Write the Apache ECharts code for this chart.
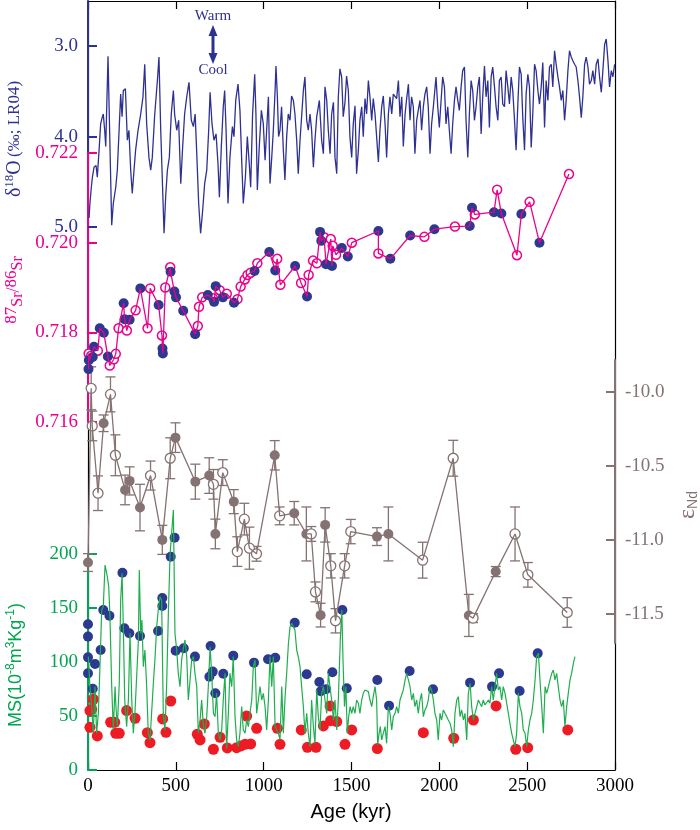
<!DOCTYPE html>
<html><head><meta charset="utf-8">
<script src="https://cdn.jsdelivr.net/npm/echarts@6/dist/echarts.min.js"></script>
<style>html,body{margin:0;padding:0;background:#fff}#c{width:700px;height:830px}</style>
</head><body><div id="c"></div><script>
// ---- data (age kyr, value) ----
const ageTicks = [0, 500, 1000, 1500, 2000, 2500, 3000];
const d18oTicks = [3, 4, 5];
const srTicks = [0.716, 0.718, 0.720, 0.722];
const ndTicks = [-11.5, -11.0, -10.5, -10.0];
const msTicks = [0, 50, 100, 150, 200];

const d18o = [
[6,4.90],[11,4.74],[19,4.56],[25,4.45],[34,4.34],[46,4.32],[53,4.45],[63,4.15],[72,3.86],[82,3.78],[87,3.75],[95,3.93],[101,4.11],[114,3.11],[123,3.93],[135,4.98],[144,4.74],[158,4.56],[167,4.37],[177,3.93],[186,3.53],[194,3.78],[201,3.49],[213,3.47],[224,4.04],[233,3.93],[243,4.37],[252,4.63],[262,4.37],[271,4.15],[285,3.93],[300,3.75],[313,3.56],[323,3.20],[334,3.86],[347,4.23],[357,4.37],[366,4.23],[380,3.75],[395,3.38],[404,3.12],[414,3.93],[433,5.07],[442,4.67],[452,4.37],[463,4.23],[474,3.75],[486,3.49],[493,3.75],[505,3.93],[516,3.82],[528,4.52],[539,4.11],[550,3.75],[562,3.56],[575,3.40],[588,3.82],[600,3.89],[610,3.75],[620,4.23],[630,4.74],[641,5.07],[653,4.81],[664,4.52],[676,4.37],[687,3.93],[695,3.51],[706,3.86],[717,4.04],[729,3.97],[740,4.30],[748,4.67],[759,4.11],[770,3.67],[778,3.49],[786,3.93],[797,4.74],[808,4.23],[822,3.89],[831,4.00],[841,3.60],[854,3.42],[865,3.71],[877,4.37],[884,4.74],[896,4.45],[907,4.00],[918,4.30],[926,4.56],[937,3.75],[949,3.31],[956,3.75],[964,4.59],[975,4.11],[987,3.71],[998,3.86],
[1008,4.26],[1017,3.93],[1027,3.56],[1036,4.52],[1046,4.23],[1055,3.93],[1065,3.49],[1070,3.22],[1078,3.56],[1085,4.00],[1093,3.93],[1102,3.67],[1112,4.15],[1121,4.48],[1131,4.00],[1140,3.75],[1150,3.82],[1159,3.55],[1169,3.60],[1178,3.75],[1188,4.04],[1197,4.41],[1207,4.04],[1216,3.78],[1226,3.49],[1235,3.34],[1245,3.82],[1254,3.93],[1264,3.75],[1273,3.93],[1283,4.34],[1292,4.04],[1302,3.78],[1317,3.60],[1330,4.04],[1340,4.19],[1349,3.45],[1359,3.60],[1368,3.93],[1378,4.19],[1387,3.75],[1397,3.62],[1406,4.23],[1416,4.41],[1425,3.56],[1434,3.25],[1444,3.34],[1453,3.78],[1463,3.62],[1472,3.33],[1482,3.49],[1491,4.00],[1501,4.23],[1510,3.86],[1520,3.66],[1529,4.41],[1539,4.15],[1548,3.82],[1558,3.67],[1567,4.00],[1577,3.58],[1586,3.75],[1596,3.38],[1605,3.56],[1615,3.82],[1624,3.58],[1634,3.75],[1643,4.00],[1653,4.28],[1662,3.93],[1672,3.67],[1681,3.55],[1691,3.86],[1700,4.23],[1710,3.75],[1719,3.56],[1729,3.75],[1738,3.53],[1757,3.58],[1767,3.38],[1776,3.78],[1786,3.56],[1795,4.11],[1805,3.75],[1814,3.58],[1824,3.42],[1833,3.82],[1842,3.56],[1852,3.67],[1861,4.19],[1871,3.82],[1880,3.71],[1890,3.60],[1899,3.93],[1909,3.67],[1918,3.53],[1928,3.45],[1937,3.67],[1947,4.19],[1956,3.86],[1966,3.67],[1981,3.34],
[1991,3.67],[2000,3.90],[2010,3.60],[2019,3.34],[2029,3.45],[2038,3.86],[2048,3.67],[2057,3.93],[2067,4.19],[2076,3.86],[2086,3.60],[2095,3.45],[2105,3.60],[2114,3.71],[2124,3.45],[2133,3.27],[2143,3.23],[2152,3.82],[2162,4.23],[2171,3.75],[2181,3.38],[2190,3.49],[2200,3.82],[2209,3.67],[2219,3.45],[2228,3.34],[2238,3.97],[2247,3.56],[2257,3.22],[2266,3.56],[2276,3.38],[2285,3.90],[2295,3.34],[2304,3.23],[2314,3.45],[2323,3.67],[2333,3.82],[2342,3.38],[2352,3.34],[2361,3.64],[2371,3.67],[2380,3.27],[2390,3.45],[2399,3.64],[2409,3.34],[2418,3.49],[2428,3.82],[2437,4.15],[2447,3.64],[2456,3.23],[2466,3.31],[2475,3.79],[2485,4.15],[2494,3.53],[2504,3.31],[2513,3.45],[2523,4.12],[2532,3.75],[2542,3.20],[2551,3.27],[2561,3.49],[2570,3.64],[2580,3.45],[2589,3.18],[2599,3.90],[2608,3.38],[2618,3.60],[2627,3.23],[2637,3.20],[2646,3.45],[2656,3.05],[2665,3.20],[2675,3.34],[2684,3.45],[2694,3.60],[2703,3.49],[2713,3.82],[2722,3.60],[2732,3.27],[2741,3.05],[2751,3.12],[2760,3.16],[2770,3.20],[2779,3.23],[2789,3.38],[2798,3.56],[2808,3.79],[2817,3.56],[2827,3.20],[2836,3.12],[2846,3.23],[2855,3.42],[2865,3.38],[2874,3.27],[2884,3.42],[2893,3.20],[2903,3.14],[2912,3.34],[2922,3.51],[2931,3.27],[2941,2.98],[2950,2.92],[2960,3.16],[2969,3.45],[2979,3.27],[2988,3.34],[2998,3.20]
];

const srFilled = [[3,0.71718],[5,0.71738],[27,0.71745],[34,0.71768],[67,0.71809],[90,0.71799],[113,0.71746],[203,0.71865],[208,0.71829],[237,0.71828],[298,0.71898],[402,0.71861],[424,0.71764],[426,0.71753],[470,0.71935],[492,0.71891],[501,0.71878],[542,0.71848],[610,0.71796],[682,0.71883],[718,0.71868],[727,0.71903],[768,0.71878],[831,0.71866],[948,0.71937],[1032,0.71979],[1066,0.71938],[1179,0.71948],[1247,0.71880],[1321,0.72024],[1328,0.72004],[1355,0.71952],[1389,0.71948],[1445,0.71988],[1479,0.71969],[1653,0.72026],[1721,0.71964],[1834,0.72016],[1972,0.72030],[2173,0.72037],[2186,0.72078],[2311,0.72068],[2353,0.72065],[2467,0.72064],[2570,0.72000]];
const srOpen = [[4,0.71753],[18,0.71748],[56,0.71759],[124,0.71726],[147,0.71740],[158,0.71752],[174,0.71809],[221,0.71804],[271,0.71849],[339,0.71809],[354,0.71898],[421,0.71793],[440,0.71900],[468,0.71945],[625,0.71814],[632,0.71857],[650,0.71878],[711,0.71876],[750,0.71894],[790,0.71886],[851,0.71874],[869,0.71902],[892,0.71918],[908,0.71928],[926,0.71933],[964,0.71954],[1077,0.71964],[1095,0.71906],[1213,0.71910],[1256,0.71928],[1281,0.71960],[1303,0.71954],[1344,0.72012],[1382,0.72008],[1393,0.71993],[1412,0.71973],[1502,0.72000],[1653,0.71976],[1915,0.72013],[2089,0.72036],[2202,0.72063],[2329,0.72118],[2442,0.71972],[2514,0.72091],[2738,0.72153]];

// [age, eNd, error]
const ndFilled = [[0,-11.153,0.06],[89,-10.213,0.056],[211,-10.663,0.10],[237,-10.602,0.095],[296,-10.782,0.157],[423,-11.0,0.098],[498,-10.31,0.10],[611,-10.607,0.118],[690,-10.566,0.12],[725,-10.96,0.10],[830,-10.742,0.081],[1063,-10.429,0.099],[1174,-10.82,0.079],[1243,-10.96,0.182],[1324,-11.508,0.08],[1350,-10.899,0.116],[1645,-10.978,0.06],[1710,-10.96,0.182],[2168,-11.51,0.142],[2321,-11.214,0.034]];
const ndOpen = [[18,-9.977,0.145],[24,-10.231,0.10],[57,-10.685,0.117],[128,-10.018,0.118],[156,-10.429,0.138],[356,-10.566,0.098],[468,-10.449,0.138],[714,-10.625,0.10],[767,-10.546,0.087],[850,-11.079,0.10],[890,-10.86,0.107],[919,-11.056,0.142],[959,-11.094,0.05],[1091,-10.838,0.06],[1271,-10.96,0.05],[1295,-11.351,0.067],[1382,-11.175,0.082],[1409,-11.546,0.082],[1461,-11.175,0.082],[1496,-10.944,0.082],[1905,-11.137,0.121],[2079,-10.449,0.121],[2192,-11.528,0.03],[2431,-10.96,0.182],[2504,-11.236,0.083],[2728,-11.49,0.1]];

const msLine = [
[2,105.0],[11,77.2],[21,58.7],[30,34.0],[40,77.2],[49,34.0],[59,52.5],[68,95.7],[78,148.2],[87,151.2],[97,189.8],[103,189.8],[110,179.0],[118,169.8],[125,142.0],[135,77.2],[144,37.1],[154,77.2],[159,58.7],[167,40.2],[178,80.3],[186,157.4],[194,182.1],[201,132.7],[209,64.8],[220,40.2],[230,64.8],[239,126.6],[249,64.8],[258,34.0],[268,55.6],[277,86.4],[287,120.4],[292,185.2],[300,126.6],[307,138.9],[315,95.7],[324,111.1],[334,77.2],[343,34.0],[353,27.8],[362,52.5],[372,80.3],[381,101.9],[391,132.7],[400,148.2],[410,160.5],[419,157.4],[429,49.4],[438,37.1],[448,80.3],[457,142.0],[467,199.1],[476,219.1],[486,240.7],[495,126.6],[505,111.1],[514,89.5],[524,77.2],[533,101.9],[543,112.7],[552,120.4],[562,105.0],[571,64.8],[581,83.4],[590,101.9],[600,105.0],[609,89.5],[619,77.2],[628,34.0],[638,46.3],[647,64.8],[657,40.2],[666,34.0],[676,49.4],[685,77.2],[695,114.2],[704,89.5],[714,52.5],[723,49.4],[732,71.0],[742,34.0],[751,27.8],[761,37.1],[770,64.8],[780,89.5],[789,20.1],[799,52.5],[808,89.5],[818,77.2],[827,105.0],[837,49.4],[846,27.8],[856,21.6],[865,34.0],[875,58.7],[884,37.1],[894,34.0],[903,46.3],[913,40.2],[922,52.5],[932,64.8],[941,95.7],[951,101.9],[960,52.5],[970,64.8],[979,77.2],[989,64.8],[998,71.0],[1008,58.7],[1017,37.1],[1027,64.8],[1036,105.0],[1046,77.2],[1055,105.0],[1065,40.2],[1074,37.1],[1084,34.0],[1093,27.8],[1103,77.2],[1112,34.0],[1122,67.9],[1131,89.5],[1141,117.3],[1150,132.7],[1160,135.8],[1169,137.4],[1178,129.6],[1188,111.1],[1197,105.0],[1207,95.7],[1216,77.2],[1226,58.7],[1235,34.0],[1245,52.5],[1254,34.0],[1264,21.6],[1273,64.8],[1283,40.2],[1292,24.7],[1302,74.1],[1311,49.4],[1321,37.1],[1330,71.0],[1340,77.2],[1349,64.8],[1359,52.5],[1368,89.5],[1378,89.5],[1387,64.8],[1397,46.3],[1406,64.8],[1416,37.1],[1425,64.8],[1436,120.0],[1445,148.2],[1452,100.0],[1460,58.7],[1468,77.2],[1476,34.0],[1484,49.4],[1492,58.7],[1501,52.5],[1510,58.7],
[1520,52.5],[1529,64.8],[1539,61.8],[1548,52.5],[1558,64.8],[1567,71.0],[1577,74.1],[1586,75.6],[1596,72.6],[1605,64.8],[1615,58.7],[1624,67.9],[1634,77.2],[1643,64.8],[1649,23.2],[1657,34.0],[1664,40.2],[1672,27.8],[1681,34.0],[1691,40.2],[1700,24.7],[1710,58.7],[1719,52.5],[1729,37.1],[1738,49.4],[1748,52.5],[1757,58.7],[1767,52.5],[1776,64.8],[1786,64.8],[1795,74.1],[1805,83.4],[1814,89.5],[1824,83.4],[1833,77.2],[1843,64.8],[1852,71.0],[1861,58.7],[1871,64.8],[1880,52.5],[1890,64.8],[1899,71.0],[1909,49.4],[1918,55.6],[1928,58.7],[1937,64.8],[1947,77.2],[1956,74.1],[1966,64.8],[1975,52.5],[1985,46.3],[1994,27.8],[2004,52.5],[2013,46.3],[2023,55.6],[2032,52.5],[2042,49.4],[2051,46.3],[2061,43.2],[2070,37.1],[2080,21.6],[2089,52.5],[2099,64.8],[2108,67.9],[2118,49.4],[2127,55.6],[2137,46.3],[2146,52.5],[2156,27.8],[2165,71.0],[2175,80.3],[2184,58.7],[2194,46.3],[2203,52.5],[2213,58.7],[2222,64.8],[2231,61.8],[2241,58.7],[2250,64.8],[2260,60.2],[2269,58.7],[2279,64.8],[2288,61.8],[2298,77.2],[2307,64.8],[2317,77.2],[2326,89.5],[2336,74.1],[2345,77.2],[2355,64.8],[2364,77.2],[2374,71.0],[2383,71.0],[2393,52.5],[2402,43.2],[2412,34.0],[2421,27.8],[2431,21.6],[2440,34.0],[2450,71.0],[2459,58.7],[2469,52.5],[2478,37.1],[2488,34.0],[2497,21.6],[2507,37.1],[2516,46.3],[2526,52.5],[2535,64.8],[2545,83.4],[2554,105.0],[2564,108.0],[2573,83.4],[2583,58.7],[2592,34.0],[2602,77.2],[2611,71.0],[2621,77.2],[2630,83.4],[2640,89.5],[2649,92.6],[2658,83.4],[2668,89.5],[2677,77.2],[2687,64.8],[2696,58.7],[2706,64.8],[2715,40.2],[2725,58.7],[2734,71.0],[2744,83.4],[2753,89.5],[2763,98.8],[2772,105.0]
];
const msBlue = [[0,134.9],[0,123.5],[0,104.3],[0,89.5],[27,75.3],[40,98.2],[72,111.1],[87,148.2],[122,142.9],[196,182.7],[207,131.2],[235,126.6],[296,124.1],[399,128.7],[423,159.3],[423,151.9],[471,197.5],[493,215.1],[499,110.5],[545,112.7],[609,105.0],[698,114.8],[691,86.4],[710,91.1],[770,89.2],[725,71.0],[827,105.9],[945,99.4],[1025,102.5],[1066,104.0],[1177,136.4],[1245,88.6],[1317,81.5],[1325,72.9],[1355,74.7],[1391,90.5],[1448,148.2],[1473,75.6],[1647,83.4],[1714,59.6],[1831,91.7],[1964,74.7],[2175,80.9],[2300,77.2],[2340,89.5],[2457,73.2],[2560,108.0]];
const msRed = [[30,65.5],[11,55.0],[21,56.2],[11,39.5],[53,31.5],[129,44.2],[152,44.2],[158,34.0],[178,34.0],[220,55.0],[268,47.9],[338,34.6],[353,25.3],[425,47.3],[444,34.9],[471,63.9],[622,33.1],[638,27.8],[662,42.6],[714,19.2],[752,30.3],[793,20.4],[846,20.7],[871,22.3],[894,23.8],[926,24.1],[903,50.0],[960,38.6],[1078,38.6],[1093,23.8],[1214,37.1],[1249,21.0],[1298,21.0],[1340,40.8],[1381,45.7],[1378,59.3],[1416,44.8],[1463,23.8],[1501,37.1],[1647,19.8],[1909,34.6],[2082,29.4],[2194,46.3],[2323,59.3],[2435,19.2],[2503,20.7],[2731,37.1]];

// ---- chart ----
const SERIF = '"Liberation Serif","Times New Roman",serif';
const SANS = '"Liberation Sans",Arial,sans-serif';
const C = {blue:'#2e3192', pink:'#ec008c', navy:'#2b3990', brown:'#857272', green:'#00a651', gline:'#1fae4f', red:'#ed1c24'};
const byAge = (a, b) => a[0] - b[0];
const srLine = srFilled.concat(srOpen).sort(byAge);
const ndAll = ndFilled.concat(ndOpen);
const ndLine = ndAll.map(d => [d[0], d[1]]).sort(byAge);

const L = 88, R = 85;
const grids = [
  {left:L, right:R, top:1, height:769},
  {left:L, right:R, top:1, height:226},
  {left:L, right:R, top:153, height:269},
  {left:L, right:R, top:360, height:283},
  {left:L, right:R, top:554, height:216}
];
function hidX(i){ return {type:'value', gridIndex:i, min:0, max:3000, show:false}; }
function frameY(pos){ return {type:'value', gridIndex:0, position:pos, min:0, max:1, z:0,
  axisLine:{show:true, onZero:false, lineStyle:{color:'#000', width:1.2}}, axisTick:{show:false}, axisLabel:{show:false}, splitLine:{show:false}}; }
function colY(grid, col, min, max, ticks, fmt, extra){
  return Object.assign({type:'value', gridIndex:grid, min:min, max:max, z:1,
    axisLine:{show:true, onZero:false, lineStyle:{color:col, width:2}},
    axisTick:{show:true, inside:true, length:9, customValues:ticks, lineStyle:{color:col, width:2}},
    axisLabel:{show:true, customValues:ticks, formatter:fmt, color:col, fontFamily:SERIF, fontSize:19, margin:10},
    splitLine:{show:false}}, extra || {});
}
const sc = (x, y, data, size, style) => ({type:'scatter', xAxisIndex:x, yAxisIndex:y, data:data, symbol:'circle', symbolSize:size, itemStyle:Object.assign({opacity:1}, style), clip:false, silent:true});

const option = {
  animation:false,
  grid: grids,
  xAxis: [
    {type:'value', gridIndex:0, min:0, max:3000, interval:500, position:'bottom',
     axisLine:{show:true, onZero:false, lineStyle:{color:'#000', width:1.2}},
     axisTick:{show:true, inside:true, length:8, customValues:ageTicks, lineStyle:{color:'#000', width:1.2}},
     axisLabel:{show:true, customValues:ageTicks, formatter:v => String(v), color:'#000', fontFamily:SERIF, fontSize:19, margin:7},
     splitLine:{show:false}},
    hidX(1), hidX(2), hidX(3), hidX(4),
    {type:'value', gridIndex:0, min:0, max:3000, interval:500, position:'top',
     axisLine:{show:true, onZero:false, lineStyle:{color:'#000', width:1.2}},
     axisTick:{show:true, inside:true, length:8, lineStyle:{color:'#000', width:1.2}},
     axisLabel:{show:false}, splitLine:{show:false}}
  ],
  yAxis: [
    frameY('left'), frameY('right'),
    colY(1, C.blue, 2.5, 5.0, d18oTicks, v => v.toFixed(1), {inverse:true}),
    colY(2, C.pink, 0.716, 0.722, srTicks, v => v.toFixed(3)),
    colY(3, C.brown, -11.696, -9.786, ndTicks, v => v.toFixed(1), {position:'right'}),
    colY(4, C.green, 0, 200, msTicks, v => String(v))
  ],
  series: [
    {type:'line', xAxisIndex:1, yAxisIndex:2, data:d18o, showSymbol:false, clip:false, silent:true,
     lineStyle:{color:C.blue, width:1.3}},
    {type:'line', xAxisIndex:2, yAxisIndex:3, data:srLine, showSymbol:false, clip:false, silent:true,
     lineStyle:{color:C.pink, width:1.3}},
    sc(2, 3, srOpen, 9, {color:'#fff', borderColor:C.pink, borderWidth:1.5}),
    sc(2, 3, srFilled, 10, {color:C.navy}),
    {type:'custom', xAxisIndex:3, yAxisIndex:4, data:ndAll, clip:false, silent:true, encode:{x:0, y:1},
     renderItem: function(params, api){
       const x = api.value(0), y = api.value(1), e = api.value(2);
       const p1 = api.coord([x, y + e]), p2 = api.coord([x, y - e]);
       const w = 5, st = {stroke:C.brown, lineWidth:1.3};
       return {type:'group', children:[
         {type:'line', shape:{x1:p1[0], y1:p1[1], x2:p2[0], y2:p2[1]}, style:st},
         {type:'line', shape:{x1:p1[0]-w, y1:p1[1], x2:p1[0]+w, y2:p1[1]}, style:st},
         {type:'line', shape:{x1:p2[0]-w, y1:p2[1], x2:p2[0]+w, y2:p2[1]}, style:st}
       ]};
     }},
    {type:'line', xAxisIndex:3, yAxisIndex:4, data:ndLine, showSymbol:false, clip:false, silent:true,
     lineStyle:{color:C.brown, width:1.3}},
    sc(3, 4, ndFilled.map(d => [d[0], d[1]]), 10, {color:C.brown}),
    sc(3, 4, ndOpen.map(d => [d[0], d[1]]), 10, {color:'#fff', borderColor:C.brown, borderWidth:1.3}),
    {type:'line', xAxisIndex:4, yAxisIndex:5, data:msLine, showSymbol:false, clip:false, silent:true,
     lineStyle:{color:C.gline, width:1.2}},
    sc(4, 5, msBlue, 10, {color:C.navy}),
    sc(4, 5, msRed, 11, {color:C.red})
  ],
  graphic: [
    {type:'text', x:213, y:16, style:{text:'Warm', fill:C.blue, font:'15px ' + SERIF, align:'center', verticalAlign:'middle', textAlign:'center', textVerticalAlign:'middle'}},
    {type:'text', x:213, y:70, style:{text:'Cool', fill:C.blue, font:'15px ' + SERIF, align:'center', verticalAlign:'middle', textAlign:'center', textVerticalAlign:'middle'}},
    {type:'line', shape:{x1:213, y1:33, x2:213, y2:56}, style:{stroke:C.blue, lineWidth:3}},
    {type:'polygon', shape:{points:[[213,25],[208.5,36],[217.5,36]]}, style:{fill:C.blue}},
    {type:'polygon', shape:{points:[[213,64],[208.5,53],[217.5,53]]}, style:{fill:C.blue}},
    {type:'text', x:15, y:139, rotation:Math.PI/2, style:{
      text:'{a|δ}{s|18}{a|O} {b|(‰; LR04)}', align:'center', verticalAlign:'middle', textAlign:'center', textVerticalAlign:'middle',
      rich:{a:{fontSize:20, fontFamily:SERIF, fill:C.blue, color:C.blue},
            s:{fontSize:13, fontFamily:SERIF, fill:C.blue, color:C.blue, padding:[0,0,10,0]},
            b:{fontSize:17, fontFamily:SERIF, fill:C.blue, color:C.blue}}}},
    {type:'text', x:14, y:290, rotation:Math.PI/2, style:{
      text:'{s|87}{a|Sr}{b|/}{s|86}{a|Sr}', align:'center', verticalAlign:'middle', textAlign:'center', textVerticalAlign:'middle',
      rich:{a:{fontSize:16, fontFamily:SERIF, fill:C.pink, color:C.pink, padding:[8,0,0,0]},
            b:{fontSize:18, fontFamily:SERIF, fill:C.pink, color:C.pink},
            s:{fontSize:17, fontFamily:SERIF, fill:C.pink, color:C.pink, padding:[0,0,4,0]}}}},
    {type:'text', x:16, y:665, rotation:Math.PI/2, style:{
      text:'{a|MS(10}{s|-8}{a|m}{s|3}{a|Kg}{s|-1}{a|)}', align:'center', verticalAlign:'middle', textAlign:'center', textVerticalAlign:'middle',
      rich:{a:{fontSize:18, fontFamily:SANS, fill:C.green, color:C.green},
            s:{fontSize:12, fontFamily:SANS, fill:C.green, color:C.green, padding:[0,0,10,0]}}}},
    {type:'text', x:688, y:505, rotation:Math.PI/2, style:{
      text:'{a|ε}{s|Nd}', align:'center', verticalAlign:'middle', textAlign:'center', textVerticalAlign:'middle',
      rich:{a:{fontSize:24, fontFamily:SERIF, fill:C.brown, color:C.brown},
            s:{fontSize:14, fontFamily:SANS, fill:C.brown, color:C.brown, padding:[10,0,0,0]}}}},
    {type:'text', x:351, y:812, style:{text:'Age (kyr)', fill:'#000', font:'20px ' + SANS, align:'center', verticalAlign:'middle', textAlign:'center', textVerticalAlign:'middle'}}
  ]
};
const chart = echarts.init(document.getElementById('c'));
chart.setOption(option);
</script></body></html>
